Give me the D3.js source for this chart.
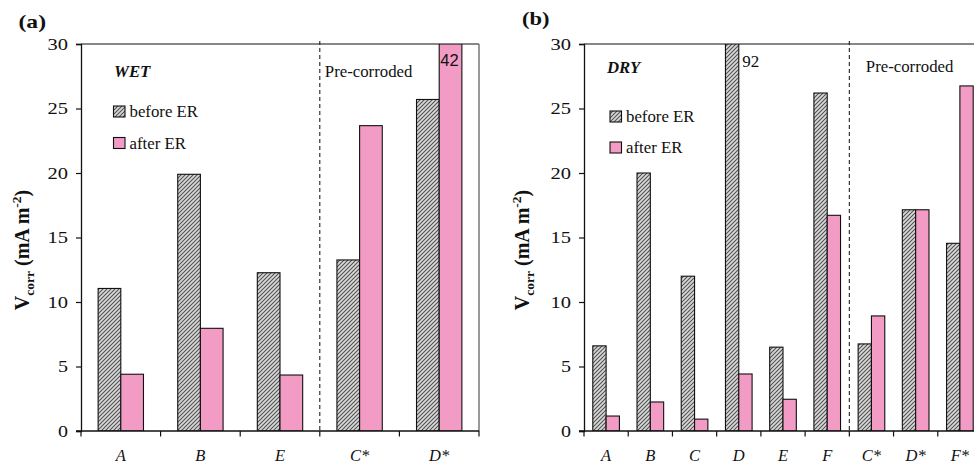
<!DOCTYPE html>
<html>
<head>
<meta charset="utf-8">
<script src="https://cdn.jsdelivr.net/npm/d3@7"></script>
<style>
  html, body { margin: 0; padding: 0; background: #fff; }
  svg { display: block; }
  text { font-family: "Liberation Serif", "Times New Roman", serif; fill: #111; }
</style>
</head>
<body>
<svg id="chart" width="974" height="465"></svg>
<script>
// Corrosion rate before / after electrochemical remediation (ER)
const wetCats   = ["A", "B", "E", "C*", "D*"];
const wetBefore = [11.05, 19.9, 12.27, 13.26, 25.7];
const wetAfter  = [4.4, 7.96, 4.34, 23.67, 42];

const dryCats   = ["A", "B", "C", "D", "E", "F", "C*", "D*", "F*"];
const dryBefore = [6.6, 20, 12, 92, 6.5, 26.2, 6.75, 17.15, 14.55];
const dryAfter  = [1.16, 2.25, 0.92, 4.42, 2.46, 16.72, 8.92, 17.15, 26.75];

const yTicks = [0, 5, 10, 15, 20, 25, 30];
const seriesNames = ["before ER", "after ER"];

const svg = d3.select("#chart");
const defs = svg.append("defs");

// diagonal hatch for the "before" bars
const hatch = defs.append("pattern")
  .attr("id", "hatch")
  .attr("patternUnits", "userSpaceOnUse")
  .attr("width", 4).attr("height", 4);
hatch.append("rect").attr("width", 4).attr("height", 4).attr("fill", "#d8d8d8");
hatch.append("path")
  .attr("d", "M-1,1 l2,-2 M0,4 l4,-4 M3,5 l2,-2")
  .attr("stroke", "#505050").attr("stroke-width", 1.05);

const PINK = "#f29bc4";
const fills = ["url(#hatch)", PINK];

function panel(cfg) {
  const { id, cats, before, after, left, right, top, bottom, subPad } = cfg;
  const g = svg.append("g");

  const x = d3.scaleBand().domain(cats).range([left, right]).paddingInner(0).paddingOuter(0);
  const xs = d3.scaleBand().domain(seriesNames).range([0, x.step()])
    .paddingInner(0).paddingOuter(subPad);
  const y = d3.scaleLinear().domain([0, 30]).range([bottom, top]);

  defs.append("clipPath").attr("id", "clip-" + id)
    .append("rect").attr("x", left).attr("y", top)
    .attr("width", right - left).attr("height", bottom - top);

  // plot frame (top and right)
  g.append("line").attr("x1", left).attr("x2", right).attr("y1", top).attr("y2", top)
    .attr("stroke", "#111").attr("stroke-width", 1.2);
  g.append("line").attr("x1", right).attr("x2", right).attr("y1", top).attr("y2", bottom)
    .attr("stroke", "#777").attr("stroke-width", 1.5);

  // bars
  const rows = [];
  cats.forEach((c, i) => {
    rows.push({ cat: c, s: 0, v: before[i] });
    rows.push({ cat: c, s: 1, v: after[i] });
  });
  g.append("g").attr("clip-path", `url(#clip-${id})`)
    .selectAll("rect").data(rows).join("rect")
    .attr("x", d => x(d.cat) + xs(seriesNames[d.s]))
    .attr("width", xs.bandwidth())
    .attr("y", d => y(Math.min(d.v, 30)))
    .attr("height", d => y(0) - y(Math.min(d.v, 30)))
    .attr("fill", d => fills[d.s])
    .attr("stroke", "#111").attr("stroke-width", 1.1);

  // dashed separator before the pre-corroded group
  const firstPre = cats.find(c => c.endsWith("*"));
  g.append("line")
    .attr("x1", x(firstPre)).attr("x2", x(firstPre))
    .attr("y1", top - 3).attr("y2", bottom)
    .attr("stroke", "#222").attr("stroke-width", 1.1)
    .attr("stroke-dasharray", "4,3");

  // y axis
  const ya = g.append("g").attr("transform", `translate(${left},0)`)
    .call(d3.axisLeft(y).tickValues(yTicks).tickSize(5).tickPadding(8).tickFormat(d3.format("d")));
  ya.select(".domain").attr("stroke", "#111").attr("stroke-width", 1.3);
  ya.selectAll(".tick line").attr("stroke", "#111").attr("stroke-width", 1.2);
  ya.selectAll(".tick text").style("font-family", "'Liberation Serif', serif")
    .style("font-size", "16.5px").attr("fill", "#111")
    .attr("textLength", d => d >= 10 ? 20.5 : 10)
    .attr("lengthAdjust", "spacingAndGlyphs");

  // x axis: boundary ticks + italic category labels
  const xa = g.append("g");
  xa.append("line").attr("x1", left - 5).attr("x2", right).attr("y1", bottom).attr("y2", bottom)
    .attr("stroke", "#111").attr("stroke-width", 1.3);
  const edges = cats.map(c => x(c)).concat([x.range()[1]]);
  xa.selectAll(".edge").data(edges).join("line").attr("class", "edge")
    .attr("x1", d => d).attr("x2", d => d).attr("y1", bottom).attr("y2", bottom + 5.5)
    .attr("stroke", "#111").attr("stroke-width", 1.2);
  xa.selectAll(".lbl").data(cats).join("text").attr("class", "lbl")
    .attr("x", d => x(d) + x.bandwidth() / 2)
    .attr("y", bottom + 29.5)
    .attr("text-anchor", "middle")
    .style("font-style", "italic").style("font-size", "16.5px")
    .text(d => d);

  // values beyond the axis range
  rows.filter(d => d.v > 30).forEach(d => {
    const bx = x(d.cat) + xs(seriesNames[d.s]);
    if (d.s === 1) {
      g.append("text").attr("x", bx + xs.bandwidth() / 2 - 1).attr("y", top + 22)
        .attr("text-anchor", "middle")
        .style("font-family", "'Liberation Sans', Arial, sans-serif").style("font-size", "16.5px")
        .text(d.v);
    } else {
      g.append("text").attr("x", bx + xs.bandwidth() + 3.5).attr("y", top + 23)
        .style("font-size", "17px").text(d.v);
    }
  });

  // y title
  const yt = g.append("text")
    .attr("transform", `translate(${cfg.titleX},${cfg.titleY}) rotate(-90)`)
    .attr("text-anchor", "middle")
    .style("font-weight", "bold").style("font-size", "20px");
  yt.append("tspan").text("V");
  yt.append("tspan").attr("dy", 4.5).style("font-size", "13.5px").text("corr");
  yt.append("tspan").attr("dy", -4.5).text(" (mA m");
  yt.append("tspan").attr("dy", -8).style("font-size", "13.5px").text("-2");
  yt.append("tspan").attr("dy", 8).text(")");

  // panel letter
  g.append("text").attr("x", cfg.letterX).attr("y", cfg.letterY)
    .attr("textLength", 27.5).attr("lengthAdjust", "spacingAndGlyphs")
    .style("font-weight", "bold").style("font-size", "19px").text(cfg.letter);

  // condition label
  g.append("text").attr("x", cfg.condX).attr("y", cfg.condY)
    .style("font-weight", "bold").style("font-style", "italic").style("font-size", "16.8px")
    .text(cfg.cond);

  g.append("text").attr("x", x(firstPre) + cfg.preDx).attr("y", cfg.preY)
    .style("font-size", "16.8px").text("Pre-corroded");

  // legend
  seriesNames.forEach((name, i) => {
    const ly = cfg.legY + i * cfg.legGap;
    g.append("rect").attr("x", cfg.legX).attr("y", ly - 11)
      .attr("width", 11.5).attr("height", 11)
      .attr("fill", fills[i]).attr("stroke", "#111").attr("stroke-width", 1.1);
    g.append("text").attr("x", cfg.legX + 16).attr("y", ly)
      .style("font-size", "16.8px").text(name);
  });
}

panel({
  id: "wet", cats: wetCats, before: wetBefore, after: wetAfter,
  left: 81, right: 479, top: 44, bottom: 431, subPad: 0.755,
  titleX: 29, titleY: 250, letter: "(a)", letterX: 18.5, letterY: 28,
  cond: "WET", condX: 114, condY: 77, preDx: 5, preY: 77,
  legX: 113.5, legY: 117, legGap: 31.5
});

panel({
  id: "dry", cats: dryCats, before: dryBefore, after: dryAfter,
  left: 584, right: 982, top: 44, bottom: 431, subPad: 0.66,
  titleX: 529, titleY: 250, letter: "(b)", letterX: 522, letterY: 25,
  cond: "DRY", condX: 607, condY: 73, preDx: 16.5, preY: 72,
  legX: 610, legY: 122, legGap: 31
});
</script>
</body>
</html>
